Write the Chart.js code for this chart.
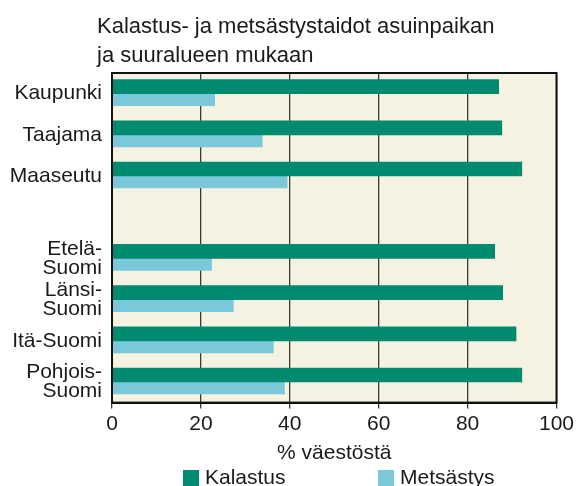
<!DOCTYPE html>
<html lang="fi">
<head>
<meta charset="utf-8">
<title>Kalastus- ja metsästystaidot</title>
<script src="https://cdn.jsdelivr.net/npm/chart.js@4.4.1/dist/chart.umd.min.js"></script>
<style>
  html, body { margin: 0; padding: 0; background: #fff; }
  #wrap { width: 577px; height: 486px; }
</style>
</head>
<body>
<div id="wrap"><canvas id="skillsChart" width="577" height="486"></canvas></div>
<script>
// Categories (empty slot separates settlement type from region)
const categories = [
  'Kaupunki', 'Taajama', 'Maaseutu', '',
  ['Etelä-', 'Suomi'], ['Länsi-', 'Suomi'], 'Itä-Suomi', ['Pohjois-', 'Suomi']
];

// Share of population, %
const kalastus = [87.0, 87.7, 92.2, null, 86.1, 87.9, 90.9, 92.2];
const metsastys = [23.1, 33.8, 39.4, null, 22.4, 27.3, 36.3, 38.8];

const seriesNames = ['Kalastus', 'Metsästys'];
const seriesColors = ['#008a6f', '#7ac8da'];
const xTicks = [0, 20, 40, 60, 80, 100];

const titleLines = ['Kalastus- ja metsästystaidot asuinpaikan', 'ja suuralueen mukaan'];
const xTitle = '% väestöstä';

const FONT = '"Liberation Sans", Arial, Helvetica, sans-serif';
const TEXT = '#1a1a1a';

// Beige plot background and a frame round the chart area
const plotFrame = {
  id: 'plotFrame',
  beforeDraw(chart) {
    const { ctx, chartArea: a } = chart;
    ctx.save();
    ctx.fillStyle = '#f6f2e2';
    ctx.fillRect(a.left, a.top, a.right - a.left, a.bottom - a.top);
    ctx.restore();
  },
  afterDraw(chart) {
    const { ctx, chartArea: a } = chart;
    ctx.save();
    ctx.strokeStyle = '#111';
    ctx.lineWidth = 2;
    ctx.strokeRect(a.left, a.top, a.right - a.left, a.bottom - a.top);
    ctx.restore();
  }
};

// Left-aligned heading above the plot and a wide-spaced key below it
const headingAndKey = {
  id: 'headingAndKey',
  afterDraw(chart) {
    const { ctx } = chart;
    ctx.save();
    ctx.fillStyle = TEXT;
    ctx.font = '22px ' + FONT;
    ctx.textAlign = 'left';
    ctx.textBaseline = 'alphabetic';
    titleLines.forEach((line, i) => ctx.fillText(line, 97, 33 + i * 29));

    const keyX = [183, 378];
    chart.data.datasets.forEach((ds, i) => {
      ctx.fillStyle = ds.backgroundColor;
      ctx.fillRect(keyX[i], 470, 16, 16);
      ctx.fillStyle = TEXT;
      ctx.font = '21px ' + FONT;
      ctx.textBaseline = 'middle';
      ctx.fillText(ds.label, keyX[i] + 22, 478);
    });
    ctx.restore();
  }
};

const ctx = document.getElementById('skillsChart').getContext('2d');

new Chart(ctx, {
  type: 'bar',
  data: {
    labels: categories,
    datasets: [
      {
        label: seriesNames[0],
        data: kalastus,
        backgroundColor: seriesColors[0],
        barThickness: 14,
      },
      {
        label: seriesNames[1],
        data: metsastys,
        backgroundColor: seriesColors[1],
        barThickness: 12,
      },
    ]
  },
  options: {
    indexAxis: 'y',
    responsive: false,
    animation: false,
    layout: {
      padding: { top: 73, right: 19, bottom: 20, left: 0 }
    },
    plugins: {
      legend: { display: false },
      title: { display: false },
      tooltip: { enabled: false },
    },
    scales: {
      x: {
        min: 0,
        max: 100,
        afterBuildTicks: (scale) => {
          scale.ticks = xTicks.map(v => ({ value: v }));
        },
        grid: {
          color: '#3a3a3a',
          lineWidth: 1.3,
          drawTicks: true,
          tickLength: 6,
        },
        border: { display: true, color: '#111', width: 2 },
        ticks: {
          color: TEXT,
          padding: 3,
          maxRotation: 0,
          font: { family: FONT, size: 21 },
        },
        title: {
          display: true,
          text: xTitle,
          color: TEXT,
          padding: { top: 1, bottom: 0 },
          font: { family: FONT, size: 21 },
        },
      },
      y: {
        afterFit: (scale) => { scale.width = 112; },
        grid: { display: false, drawTicks: false },
        border: { display: true, color: '#111', width: 2 },
        ticks: {
          color: TEXT,
          padding: 10,
          autoSkip: false,
          font: { family: FONT, size: 21, lineHeight: 0.9 },
        },
      },
    },
  },
  plugins: [plotFrame, headingAndKey],
});
</script>
</body>
</html>
